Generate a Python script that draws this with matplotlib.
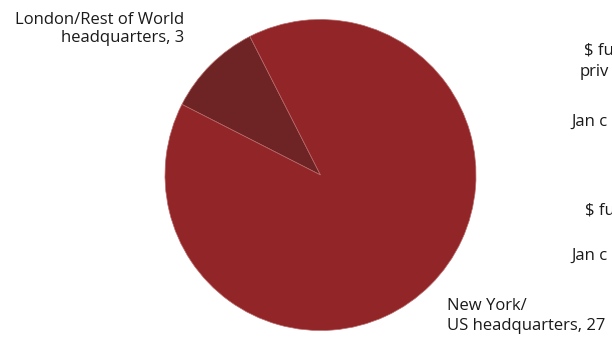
import matplotlib.pyplot as plt

labels = ['London/Rest of World\nheadquarters, 3', 'New York/\nUS headquarters, 27']
values = [3, 27]
colors = ['#6e2424', '#922528']
side_text = ['$ fu', 'priv', 'Jan c', '$ fu', 'Jan c']

fig = plt.figure(figsize=(6.12, 3.41), dpi=100)
ax = fig.add_axes([0, 0, 1, 1])

# pie in pixel coordinates (y pointing up)
ax.pie(values, colors=colors, startangle=117, counterclock=True,
       center=(320.5, 341 - 175), radius=155.5, frame=True,
       wedgeprops=dict(edgecolor='#b86a6a', linewidth=0.5))
ax.set_xlim(0, 612)
ax.set_ylim(0, 341)
ax.set_aspect('equal')
ax.axis('off')

font = 'Open Sans'
ax.text(184, 341 - 29, labels[0], ha='right', va='center', fontsize=12,
        family=font, color='#1a1a1a', linespacing=1.25)
ax.text(447, 341 - 316, labels[1], ha='left', va='center', fontsize=12,
        family=font, color='#1a1a1a', linespacing=1.25)

side_x = [584, 580, 571, 585, 571]
side_y = [50, 72, 122, 211, 256]
for t, x, y in zip(side_text, side_x, side_y):
    ax.text(x, 341 - y, t, ha='left', va='center', fontsize=12,
            family=font, color='#1a1a1a')

fig.savefig('out.png', dpi=100)
